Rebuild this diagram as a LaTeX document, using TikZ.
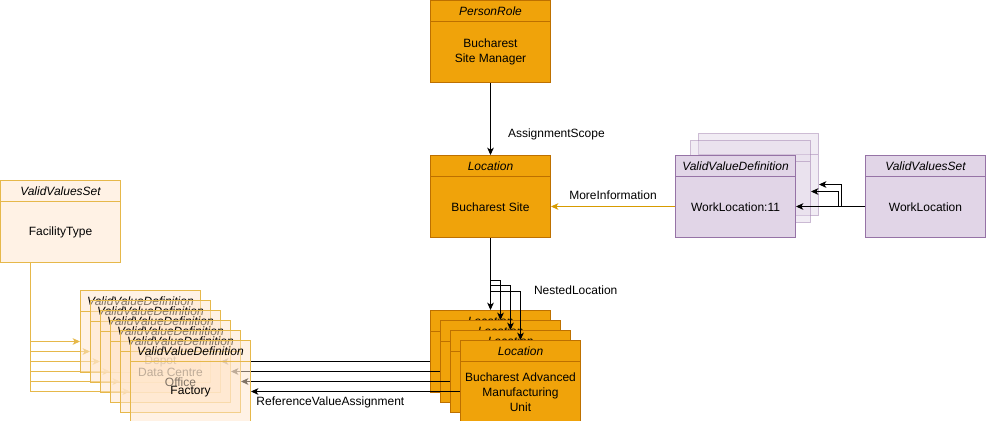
\documentclass[tikz,border=0pt]{standalone}
\usepackage{fontspec}
\setmainfont{Liberation Sans}
\usetikzlibrary{arrows.meta,positioning,shapes.multipart,calc}
\definecolor{locfill}{HTML}{F0A30A}
\definecolor{locdraw}{HTML}{BD7000}
\definecolor{vvdfill}{HTML}{FFE6CC}
\definecolor{vvdline}{HTML}{E6B84A}
\definecolor{moreline}{HTML}{D79B00}
\definecolor{purfill}{HTML}{E1D5E7}
\definecolor{purdraw}{HTML}{9673A6}
\pgfdeclarelayer{front}
\pgfsetlayers{main,front}
\newcommand{\hdr}[1]{\parbox[c][15pt][c]{90pt}{\centering\leavevmode\itshape #1}}
\newcommand{\bdy}[1]{\parbox[c][45pt][c]{90pt}{\centering\leavevmode #1}}

\begin{document}
\begin{tikzpicture}[
   x=0.75pt, y=-0.75pt,
   font=\fontsize{9}{11.25}\selectfont,
   umlbox/.style={draw, rectangle split, rectangle split parts=2, inner sep=0pt,
      line width=0.75pt, anchor=north west},
   orangebox/.style={umlbox, fill=locfill, draw=locdraw},
   purplebox/.style={umlbox, fill=purfill, draw=purdraw},
   ghostbox/.style={purplebox, fill opacity=0.45, draw opacity=0.45},
   valuebox/.style={umlbox, fill=vvdfill, fill opacity=0.5, draw=vvdline,
      text opacity=1},
   arrow/.style={-{Stealth[length=5.5pt, width=5pt, inset=1.5pt]}, line width=0.75pt},
   facarrow/.style={arrow, draw=vvdline},
   elab/.style={inner sep=0pt}
]
\useasboundingbox (0,0) rectangle (986,421);

\node[orangebox] (pr) at (430,0) {\hdr{PersonRole}\nodepart{two}\bdy{Bucharest\\Site Manager}};
\node[orangebox] (site) at (430,155) {\hdr{Location}\nodepart{two}\bdy{Bucharest Site}};

\node[orangebox] (loc1) at (430,310) {\hdr{Location}\nodepart{two}\bdy{}};
\node[orangebox] (loc2) at (440,320) {\hdr{Location}\nodepart{two}\bdy{}};
\node[orangebox] (loc3) at (450,330) {\hdr{Location}\nodepart{two}\bdy{}};
\node[orangebox] (loc4) at (460,340)
   {\hdr{Location}\nodepart{two}\bdy{Bucharest Advanced\\Manufacturing\\Unit}};

\node[ghostbox] (wl3) at (698,133) {\hdr{}\nodepart{two}\bdy{}};
\node[ghostbox] (wl2) at (690,140) {\hdr{}\nodepart{two}\bdy{}};
\node[purplebox] (wl11) at (675,155) {\hdr{ValidValueDefinition}\nodepart{two}\bdy{WorkLocation:11}};
\node[purplebox] (wls) at (865,155) {\hdr{ValidValuesSet}\nodepart{two}\bdy{WorkLocation}};

\node[valuebox] (fac) at (0,180) {\hdr{ValidValuesSet}\nodepart{two}\bdy{FacilityType}};

\begin{pgfonlayer}{front}
\node[valuebox] (vvd1) at (80,290) {\hdr{ValidValueDefinition}\nodepart{two}\bdy{}};
\node[valuebox] (vvd2) at (90,300) {\hdr{ValidValueDefinition}\nodepart{two}\bdy{}};
\node[valuebox] (vvd3) at (100,310) {\hdr{ValidValueDefinition}\nodepart{two}\bdy{Depot}};
\node[valuebox] (vvd4) at (110,320) {\hdr{ValidValueDefinition}\nodepart{two}\bdy{Data Centre}};
\node[valuebox] (vvd5) at (120,330) {\hdr{ValidValueDefinition}\nodepart{two}\bdy{Office}};
\node[valuebox] (vvd6) at (130,340) {\hdr{ValidValueDefinition}\nodepart{two}\bdy{Factory}};
\end{pgfonlayer}

\draw[arrow] (pr.south) -- node[elab, right, pos=0.72, xshift=12.75pt] {AssignmentScope}
   (site.north);
\draw[arrow, draw=moreline] ([yshift=-7.5pt]wl11.west) --
   node[elab, above=5pt] {MoreInformation} ([yshift=-7.5pt]site.east);

\draw[arrow] (site.south) -- node[elab, right, pos=0.73, xshift=32.25pt] {NestedLocation}
   (loc1.north);
\draw[arrow] (site.south) -- ++(0,42) -| (loc2.north);
\draw[arrow] (site.south) -- ++(0,47) -| (loc3.north);
\draw[arrow] (site.south) -- ++(0,53) -| (loc4.north);

\draw[arrow] ([yshift=-7.5pt]wls.west) -- ([yshift=-7.5pt]wl11.east);
\draw[arrow] ([yshift=-7.5pt]wls.west) -- ++(-27,0) |- ([yshift=-7.5pt]wl2.east);
\draw[arrow] ([yshift=-7.5pt]wls.west) -- ++(-24,0) |- ([yshift=-7.5pt]wl3.east);

\draw[facarrow] ($(fac.south)+(-30,0)$) |- ([yshift=-7.5pt]vvd1.west);
\draw[facarrow] ($(fac.south)+(-30,0)$) |- ([yshift=-7.5pt]vvd2.west);
\draw[facarrow] ($(fac.south)+(-30,0)$) |- ([yshift=-7.5pt]vvd3.west);
\draw[facarrow] ($(fac.south)+(-30,0)$) |- ([yshift=-7.5pt]vvd4.west);
\draw[facarrow] ($(fac.south)+(-30,0)$) |- ([yshift=-7.5pt]vvd5.west);
\draw[facarrow] ($(fac.south)+(-30,0)$) |- ([yshift=-7.5pt]vvd6.west);

\draw[arrow] ([yshift=-7.5pt]loc1.west) -- ([yshift=-7.5pt]vvd3.east);
\draw[arrow] ([yshift=-7.5pt]loc2.west) -- ([yshift=-7.5pt]vvd4.east);
\draw[arrow] ([yshift=-7.5pt]loc3.west) -- ([yshift=-7.5pt]vvd5.east);
\draw[arrow] ([yshift=-7.5pt]loc4.west) --
   node[elab, below=3.5pt, pos=0.62] {ReferenceValueAssignment} ([yshift=-7.5pt]vvd6.east);
\end{tikzpicture}
\end{document}
